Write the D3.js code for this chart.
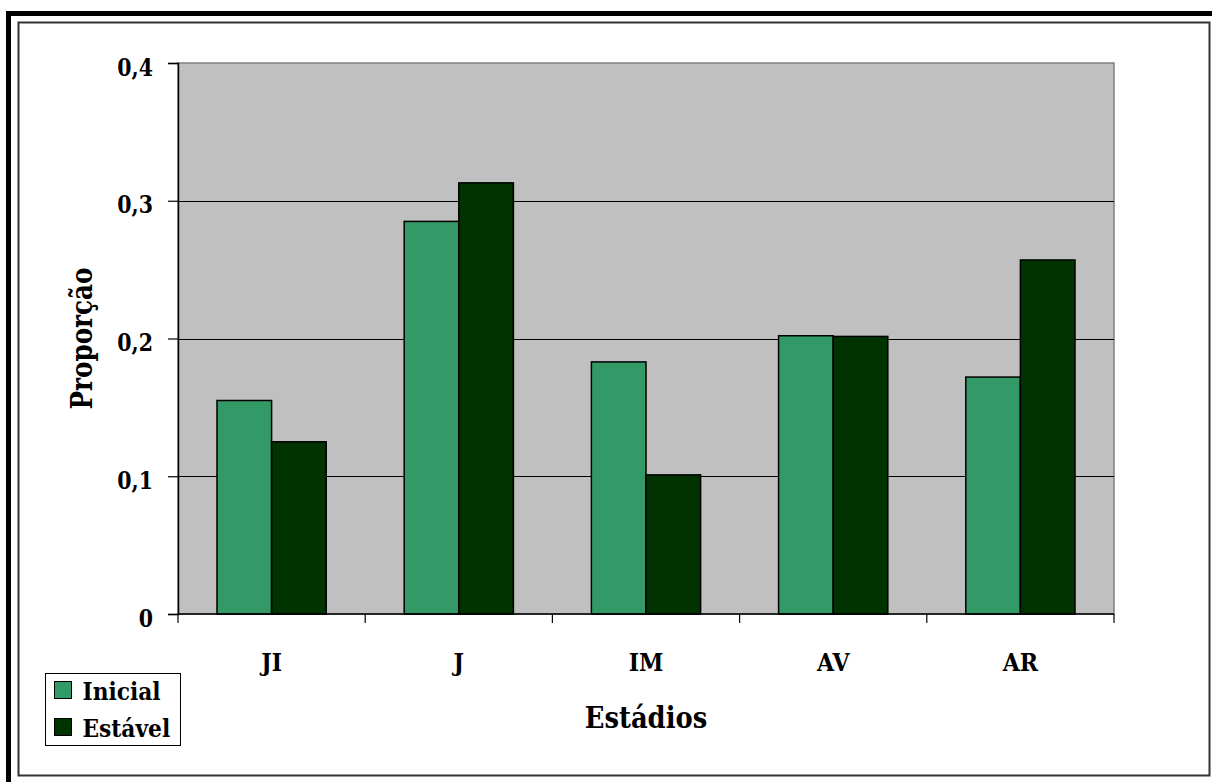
<!DOCTYPE html>
<html>
<head>
<meta charset="utf-8">
<script src="https://cdn.jsdelivr.net/npm/d3@7/dist/d3.min.js"></script>
<style>
  html, body { margin: 0; padding: 0; background: #ffffff; }
  svg { display: block; }
</style>
</head>
<body>
<svg id="chart" width="1212" height="782"></svg>
<script>
// Proportion of individuals per stage: initial vs. stable distribution
const stages = ["JI", "J", "IM", "AV", "AR"];
const inicial = [0.155, 0.285, 0.183, 0.202, 0.172];
const estavel = [0.125, 0.313, 0.101, 0.2015, 0.257];
const seriesNames = ["Inicial", "Estável"];
const seriesColors = ["#339966", "#003300"];
const yTicks = [0, 0.1, 0.2, 0.3, 0.4];

const FONT = "DejaVu Serif";
const svg = d3.select("#chart");

// Bold serif text, condensed horizontally by the given factor
function face(sel, size, narrow) {
  sel.attr("font-family", FONT).attr("font-weight", "bold")
     .attr("font-size", size).attr("fill", "#000");
  sel.each(function () {
    const w = this.getComputedTextLength();
    d3.select(this).attr("textLength", w * narrow).attr("lengthAdjust", "spacingAndGlyphs");
  });
  return sel;
}

// Outer frame (heavy top and left rules) and inner thin border
svg.append("rect").attr("x", 6).attr("y", 11).attr("width", 1212).attr("height", 5).attr("fill", "#000");
svg.append("rect").attr("x", 6).attr("y", 11).attr("width", 5).attr("height", 782).attr("fill", "#000");
svg.append("rect").attr("x", 18.5).attr("y", 22.5).attr("width", 1191).attr("height", 753)
  .attr("fill", "none").attr("stroke", "#333").attr("stroke-width", 2);

const plot = { left: 178, top: 63, right: 1114, bottom: 614 };

const x = d3.scaleBand().domain(stages).range([plot.left, plot.right]).paddingInner(0).paddingOuter(0);
const inner = d3.scaleBand().domain(seriesNames).range([0, x.bandwidth()]).paddingInner(0).paddingOuter(0.714);
const y = d3.scaleLinear().domain([0, 0.4]).range([plot.bottom, plot.top]);

// Plot background
svg.append("rect")
  .attr("x", plot.left).attr("y", plot.top)
  .attr("width", plot.right - plot.left).attr("height", plot.bottom - plot.top)
  .attr("fill", "#c0c0c0").attr("stroke", "#808080").attr("stroke-width", 1.5);

// Horizontal gridlines
svg.append("g").selectAll("line").data(yTicks.filter(d => d > 0 && d < 0.4)).join("line")
  .attr("x1", plot.left).attr("x2", plot.right)
  .attr("y1", d => Math.round(y(d)) + 0.5).attr("y2", d => Math.round(y(d)) + 0.5)
  .attr("stroke", "#000").attr("stroke-width", 1);

// Bars
const rows = stages.map((s, i) => ({ stage: s, values: [inicial[i], estavel[i]] }));
const groups = svg.append("g").selectAll("g").data(rows).join("g")
  .attr("transform", d => `translate(${x(d.stage)},0)`);
groups.selectAll("rect").data(d => d.values.map((v, k) => ({ name: seriesNames[k], value: v, k }))).join("rect")
  .attr("x", d => inner(d.name))
  .attr("y", d => y(d.value))
  .attr("width", inner.bandwidth())
  .attr("height", d => y(0) - y(d.value))
  .attr("fill", d => seriesColors[d.k])
  .attr("stroke", "#000").attr("stroke-width", 1.5);

// Y axis
const fmt = d => d === 0 ? "0" : d3.format(".1f")(d).replace(".", ",");
const yAxis = d3.axisLeft(y).tickValues(yTicks).tickFormat(fmt).tickSize(10).tickPadding(15);
const gy = svg.append("g").attr("transform", `translate(${plot.left},0)`).call(yAxis);
gy.select(".domain").attr("stroke", "#000").attr("stroke-width", 1.5);
gy.selectAll(".tick line").attr("stroke", "#000").attr("stroke-width", 1.2);
face(gy.selectAll(".tick text").attr("dy", 12), 25, 0.82);

// X axis: ticks at category boundaries, labels centred
const gx = svg.append("g").attr("transform", `translate(0,${plot.bottom})`);
gx.append("line").attr("x1", plot.left).attr("x2", plot.right).attr("y1", 0).attr("y2", 0)
  .attr("stroke", "#000").attr("stroke-width", 1.5);
const bounds = stages.map(s => x(s)).concat([x(stages[stages.length - 1]) + x.bandwidth()]);
gx.selectAll("line.tk").data(bounds).join("line").attr("class", "tk")
  .attr("x1", d => d).attr("x2", d => d).attr("y1", 0).attr("y2", 9)
  .attr("stroke", "#000").attr("stroke-width", 1.2);
face(gx.selectAll("text").data(stages).join("text")
  .attr("x", d => x(d) + x.bandwidth() / 2)
  .attr("y", 57)
  .attr("text-anchor", "middle")
  .text(d => d), 25, 0.88);

// Axis titles
face(svg.append("text").attr("x", 646).attr("y", 728).attr("text-anchor", "middle")
  .text("Estádios"), 30, 0.86);
face(svg.append("text").attr("transform", "translate(92,338.5) rotate(-90)").attr("text-anchor", "middle")
  .text("Proporção"), 30, 0.82);

// Legend
const leg = svg.append("g").attr("transform", "translate(45,673)");
leg.append("rect").attr("x", 0.5).attr("y", 0.5).attr("width", 135).attr("height", 72)
  .attr("fill", "#fff").attr("stroke", "#000").attr("stroke-width", 1);
const items = leg.selectAll("g").data(seriesNames).join("g")
  .attr("transform", (d, i) => `translate(9.5,${8.5 + i * 37})`);
items.append("rect").attr("width", 17).attr("height", 17)
  .attr("fill", (d, i) => seriesColors[i]).attr("stroke", "#000").attr("stroke-width", 1);
face(items.append("text").attr("x", 28).attr("y", 18).text(d => d), 25, 0.87);
</script>
</body>
</html>
